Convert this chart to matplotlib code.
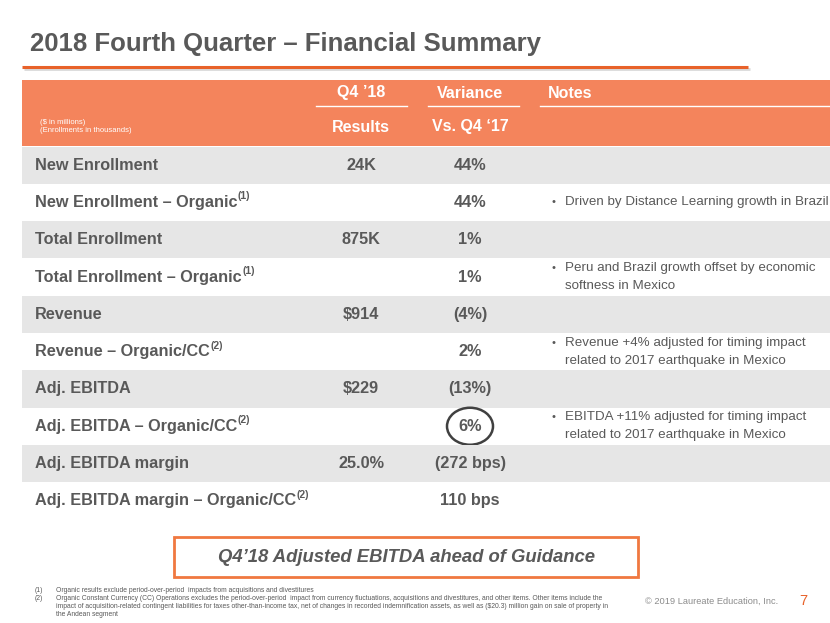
import matplotlib
matplotlib.use("Agg")
import matplotlib.pyplot as plt
from matplotlib.patches import Rectangle, Ellipse

plt.rcParams['font.family'] = ['Liberation Sans Narrow', 'Liberation Sans', 'DejaVu Sans']

# table content
labels = ["New Enrollment", "New Enrollment \u2013 Organic", "Total Enrollment",
          "Total Enrollment \u2013 Organic", "Revenue", "Revenue \u2013 Organic/CC",
          "Adj. EBITDA", "Adj. EBITDA \u2013 Organic/CC", "Adj. EBITDA margin",
          "Adj. EBITDA margin \u2013 Organic/CC"]
refs = ["", "(1)", "", "(1)", "", "(2)", "", "(2)", "", "(2)"]
results = ["24K", "", "875K", "", "$914", "", "$229", "", "25.0%", ""]
variance = ["44%", "44%", "1%", "1%", "(4%)", "2%", "(13%)", "6%", "(272 bps)", "110 bps"]
notes = ["",
         "Driven by Distance Learning growth in Brazil",
         "",
         "Peru and Brazil growth offset by economic\nsoftness in Mexico",
         "",
         "Revenue +4% adjusted for timing impact\nrelated to 2017 earthquake in Mexico",
         "",
         "EBITDA +11% adjusted for timing impact\nrelated to 2017 earthquake in Mexico",
         "",
         ""]
circled_row = 7
footnotes = [
    ("(1)", "Organic results exclude period-over-period  impacts from acquisitions and divestitures"),
    ("(2)", "Organic Constant Currency (CC) Operations excludes the period-over-period  impact from currency fluctuations, acquisitions and divestitures, and other items. Other items include the\n"
            "impact of acquisition-related contingent liabilities for taxes other-than-income tax, net of changes in recorded indemnification assets, as well as ($20.3) million gain on sale of property in\n"
            "the Andean segment"),
]

DARK = "#595959"
ORANGE = "#E8622A"
HEAD = "#F4845C"
GRAY = "#E6E6E6"

fig = plt.figure(figsize=(8.3, 6.23), dpi=100)
ax = fig.add_axes([0, 0, 1, 1])
ax.set_xlim(0, 830)
ax.set_ylim(623, 0)
ax.axis("off")

# title
ax.text(30, 44, "2018 Fourth Quarter \u2013 Financial Summary", fontsize=18.5, fontweight="bold",
        color=DARK, va="center", ha="left")
ax.plot([24, 750], [69, 69], color="#d9d9d9", lw=2, solid_capstyle="butt")
ax.plot([22, 748], [67, 67], color=ORANGE, lw=2.2, solid_capstyle="butt")

# header band
ax.add_patch(Rectangle((22, 80), 808, 66, color=HEAD, lw=0))
hkw = dict(color="white", fontsize=11.5, fontweight="bold", va="center")
ax.text(361, 93, "Q4 \u201918", ha="center", **hkw)
ax.text(470, 93, "Variance", ha="center", **hkw)
ax.text(548, 93, "Notes", ha="left", **hkw)
ax.text(361, 127, "Results", ha="center", **hkw)
ax.text(470, 127, "Vs. Q4 \u201817", ha="center", **hkw)
for x0, x1 in [(316, 407), (428, 519), (540, 830)]:
    ax.plot([x0, x1], [106, 106], color="white", lw=1)
ax.text(40, 122, "($ in millions)", color="white", fontsize=5.5, va="center", parse_math=False)
ax.text(40, 130, "(Enrollments in thousands)", color="white", fontsize=5.5, va="center")

# rows
top, rh = 146.5, 37.3
fig.canvas.draw()
rend = fig.canvas.get_renderer()
for i, lab in enumerate(labels):
    y0 = top + i * rh
    yc = y0 + rh / 2
    if i % 2 == 0:
        ax.add_patch(Rectangle((22, y0), 808, rh, color=GRAY, lw=0))
    t = ax.text(35, yc, lab, fontsize=11.7, fontweight="bold", color=DARK, va="center", ha="left")
    if refs[i]:
        bb = t.get_window_extent(renderer=rend)
        xe = ax.transData.inverted().transform((bb.x1, bb.y1))[0]
        ax.text(xe + 0.5, yc - 6, refs[i], fontsize=7.5, fontweight="bold", color=DARK,
                va="center", ha="left")
    ax.text(361, yc, results[i], fontsize=11.7, fontweight="bold", color=DARK, va="center",
            ha="center", parse_math=False)
    ax.text(470, yc, variance[i], fontsize=11.7, fontweight="bold", color=DARK, va="center",
            ha="center")
    if i == circled_row:
        ax.add_patch(Ellipse((470, yc), 46, 37, fill=False, ec="#404040", lw=1.8))
    if notes[i]:
        lines = notes[i].split("\n")
        ys = [yc] if len(lines) == 1 else [yc - 9, yc + 9]
        for j, (ln, yy) in enumerate(zip(lines, ys)):
            if j == 0:
                ax.text(551, yy, "\u2022", fontsize=8, color=DARK, va="center", ha="left")
            ax.text(565, yy, ln, fontsize=9.6, color=DARK, va="center", ha="left")

# callout box
ax.add_patch(Rectangle((174, 537), 464, 40, fill=False, ec="#F07840", lw=2))
ax.text(406, 557, "Q4\u201918 Adjusted EBITDA ahead of Guidance", fontsize=13.3, fontweight="bold",
        style="italic", color=DARK, ha="center", va="center")

# footnotes
fy = 591
for num, txt in footnotes:
    ax.text(35, fy, num, fontsize=4.9, color=DARK, va="center", ha="left")
    for k, ln in enumerate(txt.split("\n")):
        ax.text(56, fy + k * 7.7, ln, fontsize=4.9, color=DARK, va="center", ha="left",
                parse_math=False)
    fy += 7.7 * len(txt.split("\n"))

ax.text(645, 601, "\u00a9 2019 Laureate Education, Inc.", fontsize=6.7, color="#8c8c8c",
        va="center", ha="left")
ax.text(799, 601, "7", fontsize=10.5, color=ORANGE, va="center", ha="left")

fig.savefig("out.png", dpi=100)
